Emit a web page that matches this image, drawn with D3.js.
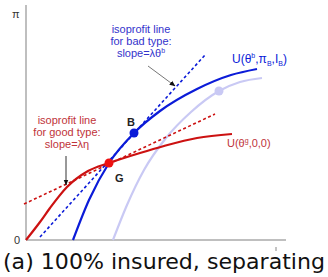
<!DOCTYPE html>
<html>
<head>
<meta charset="utf-8">
<script src="https://cdn.jsdelivr.net/npm/d3@7"></script>
<style>
  body { margin: 0; background: #fff; }
  svg { display: block; font-family: "Liberation Sans", Arial, sans-serif; }
</style>
</head>
<body>
<svg></svg>
<script>
// curves (x = insurance, y = profit, arbitrary units)
const goodCurve = [[0,0],[14,18],[24,32],[41,53],[62,69],[83,77],[114,87],[138,94],[171,102],[206,106]];
const badCurve = [[47,0],[63,40],[83,77],[108,107],[134,129],[171,151],[205,165],[231,171]];
const badCurveOld = [[87,0],[101,35],[118,70],[140,102],[165,128],[193,149],[214,158],[236,162]];
const goodIso = [[-2,36],[189,126]];
const badIso = [[14,3],[179,185]];
const pointG = [83,77];
const pointB = [108,107];
const pointOld = [193,149];

const width = 328, height = 277;
const blue = "#0b1bd8", red = "#cc1111", pale = "#c9c9f4";

const svg = d3.select("svg").attr("width", width).attr("height", height);

const x = d3.scaleLinear().domain([0, 260]).range([26, 286]);
const y = d3.scaleLinear().domain([0, 235]).range([240, 5]);

const line = d3.line().x(d => x(d[0])).y(d => y(d[1])).curve(d3.curveMonotoneX);
const straight = d3.line().x(d => x(d[0])).y(d => y(d[1]));

svg.append("defs").append("marker")
  .attr("id", "arr")
  .attr("viewBox", "0 0 10 10")
  .attr("refX", 9).attr("refY", 5)
  .attr("markerWidth", 6).attr("markerHeight", 6)
  .attr("orient", "auto")
  .append("path").attr("d", "M0,1L10,5L0,9z").attr("fill", "#111");

// axes
svg.append("line").attr("x1", x(0)).attr("x2", x(0)).attr("y1", y(235)).attr("y2", y(0))
  .attr("stroke", "#aaa").attr("stroke-width", 1.5);
svg.append("line").attr("x1", x(0)).attr("x2", x(260)).attr("y1", y(0)).attr("y2", y(0))
  .attr("stroke", "#aaa").attr("stroke-width", 1.5);
svg.append("text").attr("x", 12).attr("y", 18).attr("font-size", 11).attr("fill", "#333").text("π");
svg.append("text").attr("x", 14).attr("y", 244).attr("font-size", 11).attr("fill", "#333").text("0");

// curves
svg.append("path").attr("d", line(badCurveOld)).attr("fill", "none").attr("stroke", pale).attr("stroke-width", 2.2);
svg.append("path").attr("d", straight(goodIso)).attr("fill", "none").attr("stroke", red)
  .attr("stroke-width", 1.6).attr("stroke-dasharray", "3,2.5");
svg.append("path").attr("d", straight(badIso)).attr("fill", "none").attr("stroke", blue)
  .attr("stroke-width", 1.6).attr("stroke-dasharray", "3,2.5");
svg.append("path").attr("d", line(goodCurve)).attr("fill", "none").attr("stroke", red).attr("stroke-width", 2.2);
svg.append("path").attr("d", line(badCurve)).attr("fill", "none").attr("stroke", blue).attr("stroke-width", 2.2);

svg.append("circle").attr("cx", x(pointOld[0])).attr("cy", y(pointOld[1])).attr("r", 4.5).attr("fill", pale);
svg.append("circle").attr("cx", x(pointB[0])).attr("cy", y(pointB[1])).attr("r", 4.5).attr("fill", blue);
svg.append("circle").attr("cx", x(pointG[0])).attr("cy", y(pointG[1])).attr("r", 4.5).attr("fill", "#ee1111");

svg.append("text").attr("x", 127).attr("y", 126).attr("font-size", 11).attr("font-weight", "bold").attr("fill", "#222").text("B");
svg.append("text").attr("x", 115).attr("y", 182).attr("font-size", 11).attr("font-weight", "bold").attr("fill", "#222").text("G");

// annotations
const blueNote = svg.append("text").attr("font-size", 11).attr("fill", "#3333cc").attr("text-anchor", "middle");
["isoprofit line", "for bad type:"].forEach((t, i) =>
  blueNote.append("tspan").attr("x", 141).attr("y", 33 + i * 12).text(t));
blueNote.append("tspan").attr("x", 141).attr("y", 57).text("slope=λθ");
blueNote.append("tspan").attr("font-size", 7).attr("dy", -4).text("b");

svg.append("line").attr("x1", 148).attr("y1", 66).attr("x2", 175).attr("y2", 86)
  .attr("stroke", "#777").attr("stroke-width", 1).attr("marker-end", "url(#arr)");

const redNote = svg.append("text").attr("font-size", 11).attr("fill", "#c0333a").attr("text-anchor", "middle");
["isoprofit line", "for good type:", "slope=λη"].forEach((t, i) =>
  redNote.append("tspan").attr("x", 67).attr("y", 124 + i * 12).text(t));

svg.append("line").attr("x1", 66).attr("y1", 156).attr("x2", 66).attr("y2", 185)
  .attr("stroke", "#333").attr("stroke-width", 1).attr("marker-end", "url(#arr)");

// curve labels
const ub = svg.append("text").attr("x", 232).attr("y", 63).attr("font-size", 12).attr("fill", blue);
ub.append("tspan").text("U(θ");
ub.append("tspan").attr("font-size", 7).attr("dy", -5).text("b");
ub.append("tspan").attr("dy", 5).text(",π");
ub.append("tspan").attr("font-size", 7).attr("dy", 3).text("B");
ub.append("tspan").attr("dy", -3).text(",I");
ub.append("tspan").attr("font-size", 7).attr("dy", 3).text("B");
ub.append("tspan").attr("dy", -3).text(")");

const ug = svg.append("text").attr("x", 227).attr("y", 147).attr("font-size", 11).attr("fill", "#c0333a");
ug.append("tspan").text("U(θ");
ug.append("tspan").attr("font-size", 7).attr("dy", -4).text("g");
ug.append("tspan").attr("dy", 4).text(",0,0)");

// small tick
svg.append("line").attr("x1", 276).attr("x2", 276).attr("y1", 247).attr("y2", 251).attr("stroke", "#888");

svg.append("text").attr("x", 3).attr("y", 269).attr("font-size", 22)
  .attr("font-family", "'DejaVu Sans', sans-serif").attr("fill", "#111")
  .attr("textLength", 322).attr("lengthAdjust", "spacingAndGlyphs")
  .text("(a) 100% insured, separating");
</script>
</body>
</html>
